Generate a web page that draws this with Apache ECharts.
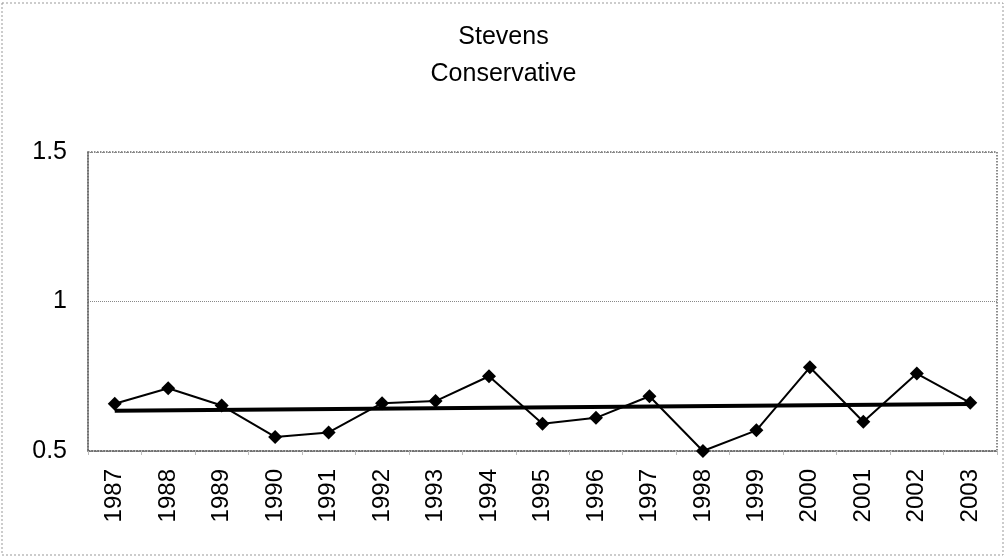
<!DOCTYPE html>
<html>
<head>
<meta charset="utf-8">
<style>
  html, body { margin: 0; padding: 0; background: #fff; }
  #chart { width: 1007px; height: 557px; }
</style>
<script src="https://cdn.jsdelivr.net/npm/echarts@6/dist/echarts.min.js"></script>
</head>
<body>
<div id="chart"></div>
<script>
// ---- data ----
var years = ['1987','1988','1989','1990','1991','1992','1993','1994','1995',
             '1996','1997','1998','1999','2000','2001','2002','2003'];
var conservative = [0.658, 0.710, 0.652, 0.547, 0.562, 0.660, 0.667, 0.750, 0.591,
                    0.611, 0.683, 0.500, 0.569, 0.780, 0.598, 0.759, 0.661];
var trendYears = ['1987', '2003'];
var trendValues = [0.635, 0.657];
var yTicks = [0.5, 1, 1.5];
var titleLines = ['Stevens', 'Conservative'];

var chart = echarts.init(document.getElementById('chart'), null, { renderer: 'canvas' });
var FONT = 'Liberation Sans, Arial, sans-serif';
var GRAY = '#666666';

var option = {
  backgroundColor: '#ffffff',
  animation: false,
  title: {
    text: titleLines.join('\n'),
    left: 'center',
    top: 14,
    textStyle: { fontFamily: FONT, fontSize: 25, fontWeight: 'normal', color: '#000', lineHeight: 37 }
  },
  graphic: [{
    type: 'rect',
    shape: { x: 2, y: 3, width: 1001, height: 552 },
    style: { fill: 'none', stroke: '#999', lineWidth: 1, lineDash: [2, 2] },
    silent: true
  }],
  grid: {
    left: 88, right: 10, top: 152, bottom: 106,
    show: true,
    borderColor: GRAY, borderWidth: 1.5, borderType: 'dotted',
    containLabel: false
  },
  xAxis: {
    type: 'category',
    data: years,
    boundaryGap: true,
    axisLine: { lineStyle: { color: GRAY, width: 1.5, type: 'dotted' } },
    axisTick: { show: true, length: 4, lineStyle: { color: '#bbb', width: 1 } },
    axisLabel: { rotate: 90, margin: 18, fontFamily: FONT, fontSize: 24, color: '#000' }
  },
  yAxis: {
    type: 'value',
    min: yTicks[0], max: yTicks[yTicks.length - 1], interval: 0.5,
    axisLine: { show: true, lineStyle: { color: GRAY, width: 1.5, type: 'dotted' } },
    axisTick: { show: false },
    splitLine: { show: true, lineStyle: { color: '#888', width: 1, type: 'dotted' } },
    axisLabel: { margin: 21, fontFamily: FONT, fontSize: 25, color: '#000' }
  },
  series: [
    {
      name: 'Trend',
      type: 'line',
      data: trendYears.map(function (y, i) { return [y, trendValues[i]]; }),
      symbol: 'none',
      lineStyle: { color: '#000', width: 4 },
      z: 2
    },
    {
      name: 'Conservative',
      type: 'line',
      data: conservative,
      symbol: 'diamond',
      symbolSize: 14,
      itemStyle: { color: '#000' },
      lineStyle: { color: '#000', width: 2 },
      z: 3
    }
  ]
};
chart.setOption(option);
</script>
</body>
</html>
